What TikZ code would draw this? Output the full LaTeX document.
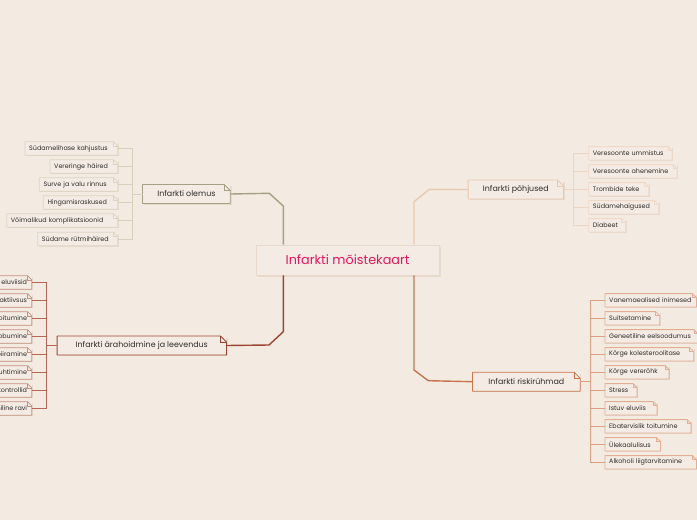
\documentclass[tikz,border=0pt]{standalone}
\usepackage{fontspec}
\setmainfont{Poppins}
\usetikzlibrary{shadows}
\definecolor{bg}{HTML}{F3EBE2}
\definecolor{boxfill}{HTML}{F4ECE4}
\definecolor{shade}{HTML}{E6DACD}
\definecolor{txt}{HTML}{2E2A28}
\definecolor{titlec}{HTML}{E3165C}
\definecolor{cborder}{HTML}{E8D9CA}
% olemus
\definecolor{olmain}{HTML}{A69F84}
\definecolor{olkidl}{HTML}{D8D0BC}
\definecolor{olkidb}{HTML}{DCD4C2}
% pohjused
\definecolor{pomain}{HTML}{E9C9AE}
\definecolor{pokidl}{HTML}{EFD5C1}
\definecolor{pokidb}{HTML}{F0D8C6}
% arahoidmine
\definecolor{armain}{HTML}{9C4631}
\definecolor{arkidl}{HTML}{B66652}
\definecolor{arkidb}{HTML}{C9907F}
% riskiruhmad
\definecolor{rimain}{HTML}{C9744C}
\definecolor{rikidl}{HTML}{DE9E7F}
\definecolor{rikidb}{HTML}{E3AD93}
\newcommand\foldbox[3]{%
  \draw[#2, line width=0.8pt, line join=round] (#1.south west) -- (#1.north west) -- ([xshift=-#3]#1.north east) -- ([yshift=-#3]#1.north east) -- (#1.south east) -- cycle;
  \draw[#2, line width=0.6pt] ([xshift=-#3]#1.north east) |- ([yshift=-#3]#1.north east);}
\begin{document}
\begin{tikzpicture}[x=1pt,y=-1pt,
  kid/.style={fill=boxfill, inner xsep=4pt, inner ysep=0pt, minimum height=13pt, text=txt,
    font=\fontsize{6.4}{7}\selectfont, align=left, anchor=west,
    drop shadow={shadow xshift=1.2pt, shadow yshift=-1.2pt, fill=shade, opacity=1}},
  branch/.style={fill=boxfill, inner sep=0pt, minimum height=18.5pt, text=txt,
    font=\fontsize{7.9}{9}\selectfont,
    drop shadow={shadow xshift=1.5pt, shadow yshift=-1.5pt, fill=shade, opacity=1}},
  mainline/.style={line width=1.4pt, line join=round},
  kidline/.style={line width=0.8pt}]
\useasboundingbox (0,0) rectangle (697,520);
\fill[bg] (0,0) rectangle (697,520);

% centre
\node[fill=boxfill, draw=cborder, line width=0.8pt, minimum width=183pt, minimum height=30pt,
  text=titlec, font=\fontsize{12.8}{14}\selectfont,
  drop shadow={shadow xshift=2pt, shadow yshift=-2pt, fill=shade, opacity=1}] (c) at (347.6,260) {Infarkti mõistekaart};

% branch nodes
\node[branch, minimum width=87.3pt] (olemus) at (186.4,194) {Infarkti olemus};
\node[branch, minimum width=95pt] (pohj) at (515.8,189.5) {Infarkti põhjused};
\node[branch, minimum width=169pt] (arah) at (141.8,345.5) {Infarkti ärahoidmine ja leevendus};
\node[branch, minimum width=107.3pt] (risk) at (526.3,381.7) {Infarkti riskirühmad};
\foldbox{olemus}{olmain}{6pt}
\foldbox{pohj}{pomain}{6pt}
\foldbox{arah}{armain}{6pt}
\foldbox{risk}{rimain}{6pt}

% main connectors
\draw[mainline, olmain] (olemus.east) -- (269.3,193.3) -- (283.3,206) -- (283.3,0 |- c.north);
\draw[mainline, pomain] (pohj.west) -- (429.3,189.3) -- (414,201.7) -- (414,0 |- c.north);
\draw[mainline, armain] (arah.east) -- (269,345) -- (283.3,331.7) -- (283.3,0 |- c.south);
\draw[mainline, rimain] (risk.west) -- (428.3,380.7) -- (414,370) -- (414,0 |- c.south);

% olemus children
\coordinate (olbus) at (132.7,194);
\foreach \i/\l/\y/\t in {1/25/148.5/Südamelihase kahjustus,2/50/166.5/Vereringe häired,3/39.3/184.5/Surve ja valu rinnus,4/43.3/202.5/Hingamisraskused,5/6.7/220.5/Võimalikud komplikatsioonid,6/37.7/239/Südame rütmihäired}{
  \pgfmathsetmacro\w{117.3-\l-8}
  \node[kid, text width=\w pt] (ol\i) at (\l,\y) {\t};
  \foldbox{ol\i}{olkidb}{4pt}
  \draw[kidline, olkidl] (ol\i.east) -| (olbus) -- (olemus.west);
}

% pohjused children
\coordinate (pobus) at (573,189.5);
\foreach \i/\r/\y/\t in {1/671.7/153.3/Veresoonte ummistus,2/676.7/171.3/Veresoonte ahenemine,3/648.3/189.3/Trombide teke,4/658.3/207.3/Südamehaigused,5/625.3/225.3/Diabeet}{
  \pgfmathsetmacro\w{\r-588.7-8}
  \node[kid, text width=\w pt] (po\i) at (588.7,\y) {\t};
  \foldbox{po\i}{pokidb}{4pt}
  \draw[kidline, pokidl] (po\i.west) -| (pobus) -- (pohj.east);
}

% arahoidmine children (cut at the left edge, as in the reference)
\coordinate (arbus) at (46.7,345.5);
\foreach \i/\y/\t in {1/282.5/Tervislikud eluviisid,2/300.5/Füüsiline aktiivsus,3/318.5/Tervislik toitumine,4/336.5/Suitsetamisest loobumine,5/354.5/Alkoholi piiramine,6/372.5/Stressi juhtimine,7/390.5/Regulaarsed kontrollid,8/408.5/Meditsiiniline ravi}{
  \node[kid, anchor=east, inner xsep=4.5pt, align=none] (ar\i) at (31.7,\y) {\t};
  \foldbox{ar\i}{arkidb}{4pt}
  \draw[kidline, arkidl] (ar\i.east) -| (arbus) -- (arah.west);
}

% riskiruhmad children
\coordinate (ribus) at (590,381.7);
\foreach \i/\r/\y/\t in {1/696/300.3/Vanemaealised inimesed,2/659.3/318.3/Suitsetamine,3/697.5/336.3/Geneetiline eelsoodumus,4/693.3/354.3/Kõrge kolesteroolitase,5/668.7/372.3/Kõrge vererõhk,6/636.7/390.3/Stress,7/656.7/408.3/Istuv eluviis,8/690.7/426.3/Ebatervislik toitumine,9/660/444.3/Ülekaalulisus,10/696/462.3/Alkoholi liigtarvitamine}{
  \pgfmathsetmacro\w{\r-605-8}
  \node[kid, text width=\w pt] (ri\i) at (605,\y) {\t};
  \foldbox{ri\i}{rikidb}{4pt}
  \draw[kidline, rikidl] (ri\i.west) -| (ribus) -- (risk.east);
}
\end{tikzpicture}
\end{document}
